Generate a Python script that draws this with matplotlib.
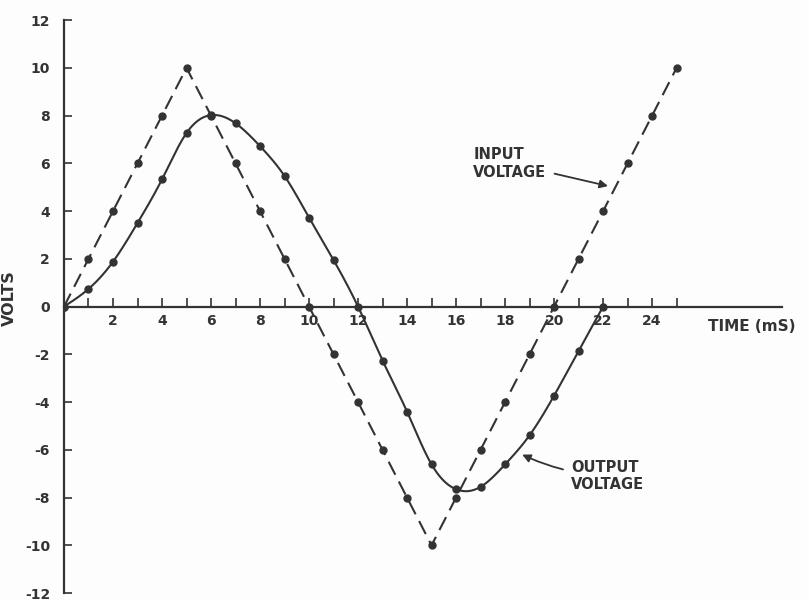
import numpy as np
import matplotlib
matplotlib.use("Agg")
import matplotlib.pyplot as plt

plt.rcParams["axes.unicode_minus"] = False
plt.rcParams["lines.scale_dashes"] = False
plt.rcParams["font.family"] = ["DejaVu Sans"]
plt.rcParams["font.weight"] = "bold"

INK = "#333333"
PAPER = "#fdfdfd"

# time in ms
t_input = list(range(0, 26))
v_input = [0, 2, 4, 6, 8, 10, 8, 6, 4, 2, 0, -2, -4, -6, -8, -10,
           -8, -6, -4, -2, 0, 2, 4, 6, 8, 10]

t_output = list(range(0, 23))
v_output = [0, 0.74, 1.88, 3.5, 5.33, 7.27, 8.02, 7.68, 6.72, 5.47, 3.73,
            1.95, 0, -2.26, -4.40, -6.61, -7.65, -7.55, -6.61, -5.39,
            -3.73, -1.86, 0]

x_ticks = list(range(2, 25, 2))
y_ticks = list(range(-12, 13, 2))


def natural_spline(x, y, xs):
    # natural cubic spline, only to draw a smooth curve through the points
    x = np.asarray(x, float)
    y = np.asarray(y, float)
    n = len(x)
    h = np.diff(x)
    A = np.zeros((n, n))
    r = np.zeros(n)
    A[0, 0] = A[-1, -1] = 1
    for i in range(1, n - 1):
        A[i, i - 1] = h[i - 1]
        A[i, i] = 2 * (h[i - 1] + h[i])
        A[i, i + 1] = h[i]
        r[i] = 3 * ((y[i + 1] - y[i]) / h[i] - (y[i] - y[i - 1]) / h[i - 1])
    c = np.linalg.solve(A, r)
    b = (y[1:] - y[:-1]) / h - h * (2 * c[:-1] + c[1:]) / 3
    d = (c[1:] - c[:-1]) / (3 * h)
    idx = np.clip(np.searchsorted(x, xs) - 1, 0, n - 2)
    dx = xs - x[idx]
    return y[idx] + b[idx] * dx + c[idx] * dx ** 2 + d[idx] * dx ** 3


fig = plt.figure(figsize=(8.09, 6.0), dpi=100, facecolor=PAPER)
ax = fig.add_axes([0.0791, 0.0115, 0.8875, 0.955], facecolor=PAPER)

# input voltage: dashed triangle
ax.plot(t_input, v_input, color=INK, lw=1.5, dashes=(10.5, 5.5),
        marker="o", ms=5, mfc=INK, mec=INK, zorder=3)

# output voltage: smooth solid curve
ts = np.linspace(t_output[0], t_output[-1], 600)
ax.plot(ts, natural_spline(t_output, v_output, ts), color=INK, lw=1.5, zorder=3)
ax.plot(t_output, v_output, "o", color=INK, ms=5, zorder=4)

ax.set_xlim(0, 29.3)
ax.set_ylim(-12, 12)

for side in ("top", "right"):
    ax.spines[side].set_visible(False)
ax.spines["bottom"].set_position(("data", 0))
ax.spines["left"].set_bounds(-12, 12)
for sp in ("bottom", "left"):
    ax.spines[sp].set_color(INK)
    ax.spines[sp].set_linewidth(1.6)

ax.set_xticks(x_ticks)
ax.set_xticks(range(1, 26), minor=True)
ax.set_xticklabels([str(v) for v in x_ticks])
ax.set_yticks(y_ticks)
ax.set_yticklabels([str(v) for v in y_ticks])
ax.tick_params(axis="x", which="both", direction="in", length=6.5, width=1.2,
               color=INK, labelsize=10, labelcolor=INK, pad=5)
ax.tick_params(axis="y", direction="in", length=6, width=1.2, color=INK,
               labelsize=10, labelcolor=INK, pad=10)

ax.set_ylabel("VOLTS", fontsize=11.5, fontweight="bold", color=INK,
              labelpad=6)
ax.yaxis.set_label_coords(-0.066, 0.515)

ax.text(26.3, -0.85, "TIME (mS)", fontsize=11, color=INK, ha="left",
        va="center", clip_on=False)

ax.annotate("INPUT\nVOLTAGE", xy=(22.2, 5.05), xytext=(16.7, 6.0),
            fontsize=10.5, color=INK, ha="left", va="center", linespacing=1.2,
            arrowprops=dict(arrowstyle="-|>", color=INK, lw=1.3,
                            mutation_scale=12, shrinkA=4, shrinkB=0))
ax.annotate("OUTPUT\nVOLTAGE", xy=(18.7, -6.2), xytext=(20.7, -7.1),
            fontsize=10.5, color=INK, ha="left", va="center", linespacing=1.2,
            arrowprops=dict(arrowstyle="-|>", color=INK, lw=1.3,
                            mutation_scale=12, shrinkA=4, shrinkB=0,
                            connectionstyle="arc3,rad=-0.1"))

fig.savefig("out.png", dpi=100, facecolor=PAPER)
